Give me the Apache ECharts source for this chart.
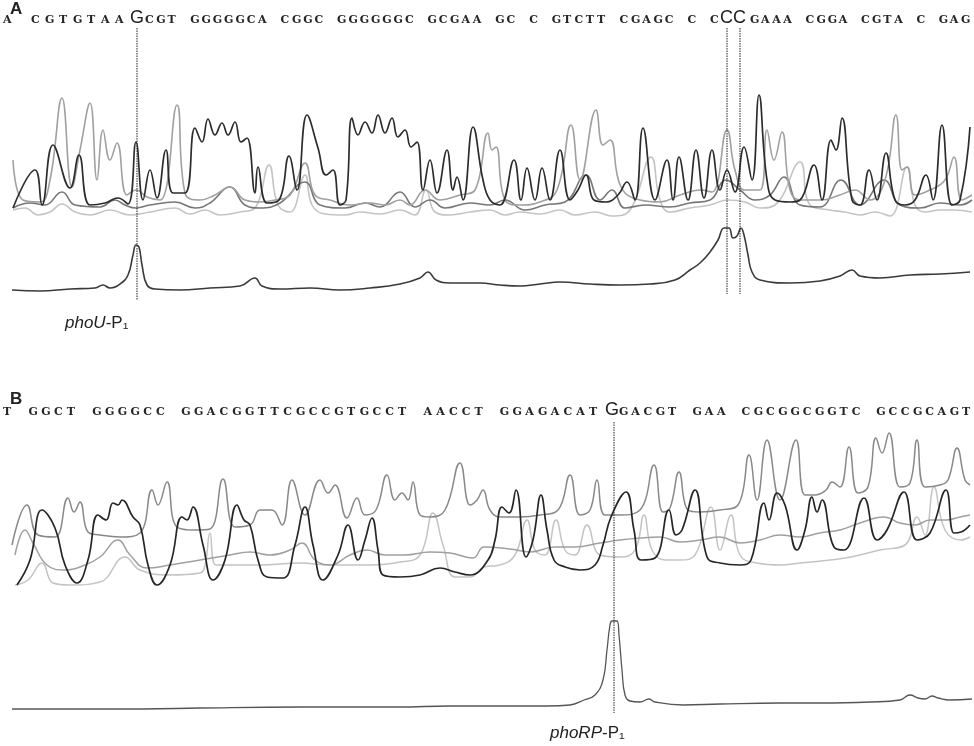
<!DOCTYPE html>
<html><head><meta charset="utf-8">
<script src="https://cdn.jsdelivr.net/npm/echarts@6/dist/echarts.min.js"></script>
<style>html,body{margin:0;padding:0;background:#fff}#c{width:974px;height:746px}</style>
</head><body><div id="c"></div>
<script>
// ---------- DATA ----------
// Panel A sequence: [before big G, big G, middle, big CC, end]
const seqA = ["A CGTGTAA", "G", "CGT GGGGGCA CGGC GGGGGGC GCGAA GC C GTCTT CGAGC C C", "CC", "GAAA CGGA CGTA C GAG"];
const seqB = ["T GGCT GGGGCC GGACGGTTCGCCGTGCCT AACCT GGAGACAT", "G", "GACGT GAA CGCGGCGGTC GCCGCAGT"];
const labelA = "phoU";
const labelB = "phoRP";

// Panel A: chromatogram traces, [scan position, intensity]
const traceA_G = [[13,92],[35,130],[42,95],[53,155],[70,112],[79,145],[90,95],[105,97],[118,102],[128,96],[136,158],[143,100],[150,130],[157,102],[166,150],[173,107],[185,107],[195,172],[202,158],[208,181],[215,165],[222,177],[228,165],[235,178],[241,158],[247,162],[255,107],[258,133],[267,97],[279,100],[289,144],[297,110],[307,185],[318,152],[326,125],[333,130],[340,95],[346,100],[352,182],[358,165],[365,178],[372,167],[378,185],[385,167],[392,182],[398,163],[405,170],[411,153],[417,158],[423,110],[430,140],[437,107],[447,150],[453,110],[457,123],[463,100],[473,173],[483,120],[490,100],[500,95],[514,140],[521,100],[527,132],[535,100],[542,132],[550,100],[560,150],[570,100],[578,110],[586,125],[594,100],[606,98],[618,105],[627,118],[635,100],[643,172],[655,100],[667,140],[673,100],[679,143],[688,100],[696,150],[704,102],[712,150],[720,110],[727,130],[735,108],[744,153],[752,120],[759,205],[767,120],[775,100],[790,98],[800,100],[814,135],[822,100],[831,160],[836,150],[842,182],[852,100],[860,95],[869,130],[877,100],[886,147],[895,100],[905,95],[915,100],[926,125],[933,100],[942,175],[952,95],[960,100],[970,173]];
const traceA_C = [[13,140],[23,100],[40,98],[50,120],[62,202],[72,113],[80,150],[90,197],[97,120],[103,170],[110,140],[117,157],[127,105],[136,110],[147,103],[160,100],[177,195],[185,107],[200,100],[215,105],[230,113],[245,100],[260,98],[275,100],[290,105],[305,137],[315,105],[330,100],[350,95],[370,97],[385,95],[400,100],[410,95],[425,110],[440,100],[460,105],[475,110],[488,167],[492,150],[496,153],[505,100],[520,95],[540,98],[557,110],[571,175],[580,120],[596,190],[603,155],[610,160],[621,113],[640,100],[660,98],[680,105],[700,110],[712,108],[727,170],[735,130],[745,110],[760,110],[767,170],[774,140],[782,168],[790,110],[800,100],[820,100],[840,105],[855,110],[870,100],[885,120],[896,185],[902,130],[907,133],[915,105],[930,110],[945,120],[954,143],[962,100],[972,105]];
const traceA_T = [[13,92],[30,97],[45,95],[62,108],[75,95],[100,93],[115,100],[125,95],[136,92],[150,95],[175,98],[195,92],[210,97],[230,113],[245,95],[260,92],[280,97],[305,118],[320,95],[345,92],[365,97],[380,93],[400,108],[415,93],[430,100],[445,92],[470,97],[490,95],[505,100],[525,90],[545,95],[565,98],[586,125],[600,100],[612,110],[625,92],[645,95],[670,93],[690,97],[710,100],[726,120],[740,110],[755,100],[770,105],[784,123],[800,95],[820,93],[841,120],[860,95],[884,120],[900,95],[920,92],[940,97],[960,95],[972,100]];
const traceA_A = [[13,90],[25,92],[38,85],[50,88],[62,96],[75,88],[90,85],[110,90],[130,85],[150,88],[175,92],[190,86],[205,90],[220,85],[240,88],[255,92],[269,135],[278,95],[290,88],[305,125],[312,95],[325,86],[345,85],[360,88],[380,86],[400,90],[415,85],[426,110],[435,88],[450,85],[470,88],[490,90],[505,85],[520,88],[540,86],[560,90],[575,85],[595,88],[612,84],[630,90],[651,143],[660,100],[670,88],[690,92],[710,95],[728,100],[745,98],[760,92],[775,95],[800,138],[810,95],[830,90],[845,88],[860,85],[875,88],[890,84],[907,133],[915,95],[925,88],[940,90],[954,90],[972,88]];
const lowerA = [[12,10],[40,9],[70,11],[95,12],[103,15],[110,12],[120,16],[128,25],[133,45],[136,55],[139,53],[142,35],[147,15],[155,11],[180,10],[210,12],[240,14],[255,22],[262,14],[280,11],[310,12],[340,10],[370,12],[400,16],[420,22],[428,28],[436,20],[450,17],[480,17],[500,15],[520,14],[540,16],[560,18],[590,16],[620,15],[650,16],[675,20],[690,30],[700,37],[710,48],[718,60],[724,72],[729,72],[733,62],[737,64],[741,72],[744,65],[748,45],[752,28],[760,20],[790,17],[820,19],[840,24],[852,30],[860,24],[880,22],[910,25],[940,26],[970,28]];
const markersA = [137, 727, 740];

// Panel B traces
const traceB_G = [[17,130],[30,155],[42,205],[55,187],[65,150],[77,132],[88,155],[98,200],[106,195],[113,212],[118,210],[122,215],[133,198],[140,190],[148,150],[157,130],[170,150],[182,198],[187,195],[193,208],[203,170],[213,135],[225,155],[237,210],[244,195],[250,190],[258,155],[267,138],[283,137],[295,170],[305,208],[313,170],[323,135],[338,160],[348,190],[358,155],[365,175],[372,197],[378,165],[383,140],[400,138],[420,140],[440,147],[455,143],[470,140],[488,155],[495,175],[502,208],[509,202],[516,225],[526,158],[533,175],[541,220],[547,185],[554,155],[565,148],[580,145],[595,150],[603,170],[611,198],[626,223],[634,185],[641,155],[655,157],[669,205],[676,180],[682,185],[695,225],[707,158],[720,152],[740,150],[751,155],[764,212],[769,195],[777,222],[785,210],[797,165],[805,185],[812,218],[817,203],[822,215],[834,168],[844,165],[864,217],[877,175],[887,185],[904,223],[917,175],[930,182],[946,225],[954,182],[961,183],[970,190]];
const traceB_C = [[12,170],[27,210],[38,180],[55,178],[68,217],[74,203],[80,213],[88,183],[100,180],[120,178],[140,182],[152,225],[158,210],[167,233],[177,188],[195,185],[210,186],[223,236],[235,188],[250,190],[260,205],[272,205],[282,190],[292,235],[305,200],[320,235],[328,222],[335,230],[347,197],[357,217],[365,200],[376,205],[387,240],[395,215],[402,222],[408,215],[413,233],[420,200],[430,198],[445,205],[460,252],[470,210],[477,215],[483,225],[490,205],[500,198],[520,198],[540,200],[558,205],[570,240],[580,200],[590,205],[597,235],[605,200],[620,200],[640,205],[654,250],[663,203],[670,207],[679,243],[688,205],[700,203],[720,205],[738,210],[749,260],[757,215],[767,275],[780,215],[796,275],[805,220],[815,220],[826,225],[832,233],[840,228],[849,268],[858,222],[868,228],[876,277],[882,262],[889,282],[900,228],[910,232],[917,275],[925,228],[940,230],[948,235],[957,267],[965,235],[970,230]];
const traceB_T = [[15,160],[25,185],[33,172],[47,150],[65,145],[85,150],[100,158],[118,175],[130,160],[147,147],[170,150],[200,155],[230,160],[250,163],[270,160],[290,165],[302,172],[315,155],[330,150],[350,160],[367,165],[385,160],[405,160],[430,163],[450,162],[473,157],[484,168],[510,166],[530,163],[555,168],[575,168],[600,172],[620,175],[640,177],[660,178],[680,173],[700,175],[720,178],[740,172],[760,175],[780,180],[800,178],[820,182],[840,185],[860,192],[884,198],[900,192],[915,190],[930,195],[946,195],[960,198],[970,200]];
const traceB_A = [[15,130],[28,135],[42,152],[53,132],[70,130],[100,133],[125,158],[140,145],[170,140],[200,142],[205,150],[210,182],[216,150],[233,150],[260,150],[300,152],[330,150],[363,150],[400,153],[420,160],[433,202],[443,170],[455,138],[470,138],[484,148],[500,150],[515,160],[527,195],[535,165],[545,160],[556,195],[565,165],[575,160],[587,190],[600,160],[620,158],[635,165],[644,200],[652,165],[665,155],[680,155],[695,160],[711,208],[720,165],[731,200],[740,160],[757,152],[780,150],[800,152],[830,155],[851,158],[880,165],[905,170],[917,198],[925,180],[934,228],[945,185],[961,175],[970,178]];
const lowerB = [[12,6],[100,6],[143,6],[200,7],[300,8],[398,8],[450,9],[547,9],[570,10],[584,15],[595,20],[603,35],[607,65],[610,90],[612,94],[617,94],[619,80],[622,45],[625,20],[630,14],[640,13],[649,16],[655,13],[683,10],[720,11],[780,12],[820,12],[870,13],[900,15],[910,20],[918,17],[925,16],[932,19],[938,17],[950,15],[972,16]];
const markersB = [614];

// ---------- LAYOUT ----------
const seqFont = {fontFamily: 'DejaVu Serif', fontWeight: 'bold', fontSize: 11, color: '#262626'};
const bigFont = {fontFamily: 'Liberation Sans', fontWeight: 'normal', fontSize: 18, color: '#222'};

function seqTitle(text, left, top, pitch) {
  const rich = text.split('').map(c => '{c|' + (c === ' ' ? '\u00a0' : c) + '}').join('');
  return {text: rich, left: left, top: top, padding: 0, itemGap: 0,
    textStyle: Object.assign({}, seqFont, {rich: {c: Object.assign({width: pitch}, seqFont)}})};
}
function bigTitle(text, left, top) {
  return {text: text, left: left, top: top, padding: 0, textStyle: bigFont};
}
function panelLabel(t, left, top) {
  return {text: t, left: left, top: top, padding: 0,
    textStyle: {fontFamily: 'Liberation Sans', fontWeight: 'bold', fontSize: 17, color: '#222'}};
}
function geneLabel(name, left, top) {
  return {text: '{i|' + name + '}{n|-P\u2081}', left: left, top: top, padding: 0,
    textStyle: {fontSize: 17, fontWeight: 'normal', rich: {
      i: {fontFamily: 'Liberation Sans', fontStyle: 'italic', fontWeight: 'normal', fontSize: 17, color: '#222'},
      n: {fontFamily: 'Liberation Sans', fontWeight: 'normal', fontSize: 17, color: '#222'}}}};
}

const titles = [
  panelLabel('A', 10, 1),
  seqTitle(seqA[0], 3, 15, 14),
  bigTitle(seqA[1], 130, 9),
  seqTitle(seqA[2], 145, 15, 11.3),
  bigTitle(seqA[3], 720, 9),
  seqTitle(seqA[4], 750, 15, 11.1),
  geneLabel(labelA, 65, 315),
  panelLabel('B', 10, 391),
  seqTitle(seqB[0], 3, 407, 12.74),
  bigTitle(seqB[1], 605, 401),
  seqTitle(seqB[2], 619, 407, 12.25),
  geneLabel(labelB, 550, 725)
];

function line(data, gi, color, width, z) {
  return {type: 'line', xAxisIndex: gi, yAxisIndex: gi, data: data, smooth: 0.45,
    symbol: 'none', silent: true, z: z, lineStyle: {color: color, width: width}};
}
function markers(xs, gi, top, bottom) {
  return xs.map(x => ({type: 'line', xAxisIndex: gi, yAxisIndex: gi, data: [[x, top], [x, bottom]],
    symbol: 'none', silent: true, z: 10, lineStyle: {color: '#222', width: 1, type: [1.5, 1]}}));
}

const series = [
  line(traceA_A, 0, '#c4c4c4', 1.6, 2),
  line(traceA_T, 0, '#777', 1.6, 3),
  line(traceA_C, 0, '#a0a0a0', 1.6, 4),
  line(traceA_G, 0, '#2c2c2c', 1.7, 5),
  line(lowerA, 0, '#3a3a3a', 1.6, 5),
  ...markers([markersA[0]], 0, 272, 0),
  ...markers(markersA.slice(1), 0, 272, 6),
  line(traceB_A, 1, '#c4c4c4', 1.5, 2),
  line(traceB_T, 1, '#a0a0a0', 1.5, 3),
  line(traceB_C, 1, '#888', 1.5, 4),
  line(traceB_G, 1, '#262626', 1.7, 5),
  line(lowerB, 1, '#555', 1.3, 5),
  ...markers(markersB, 1, 293, 2)
];

const chart = echarts.init(document.getElementById('c'), null, {renderer: 'canvas'});
chart.setOption({
  animation: false,
  backgroundColor: '#fff',
  title: titles,
  grid: [
    {left: 0, right: 0, top: 25, height: 275},
    {left: 0, right: 0, top: 415, height: 300}
  ],
  xAxis: [
    {type: 'value', gridIndex: 0, min: 0, max: 974, show: false},
    {type: 'value', gridIndex: 1, min: 0, max: 974, show: false}
  ],
  yAxis: [
    {type: 'value', gridIndex: 0, min: 0, max: 275, show: false},
    {type: 'value', gridIndex: 1, min: 0, max: 300, show: false}
  ],
  series: series
});
</script>
</body></html>
